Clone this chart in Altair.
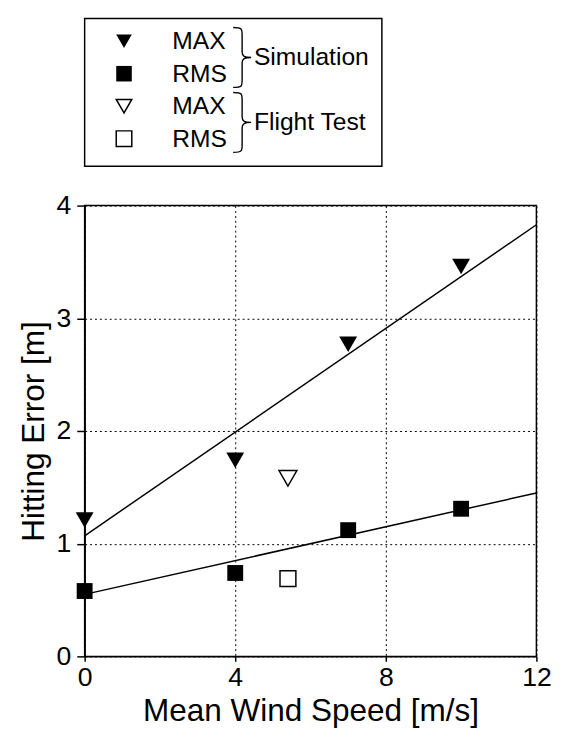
import altair as alt
import pandas as pd

# Measured hitting error [m] against mean wind speed [m/s]
sim_wind = [0, 4, 7, 10]
sim_max = [1.21, 1.74, 2.77, 3.46]
sim_rms = [0.58, 0.74, 1.12, 1.31]

flight_wind = [5.4]
flight_max = [1.58]
flight_rms = [0.69]

# Straight-line fits through the simulation results
fit_wind = [0, 12]
fit_max = [1.07, 3.83]
fit_rms = [0.55, 1.45]

# Legend contents
legend_labels = ["MAX", "RMS", "MAX", "RMS"]
legend_shapes = ["triangle-down", "square", "triangle-down", "square"]
legend_filled = [True, True, False, False]
group_names = ["Simulation", "Flight Test"]

FONT = "Liberation Sans"

sim_df = pd.DataFrame({"wind": sim_wind, "max": sim_max, "rms": sim_rms})
flight_df = pd.DataFrame({"wind": flight_wind, "max": flight_max, "rms": flight_rms})
fit_df = pd.DataFrame({"wind": fit_wind, "max": fit_max, "rms": fit_rms})

x_scale = alt.Scale(domain=[0, 12], nice=False, zero=False)
y_scale = alt.Scale(domain=[0, 4], nice=False, zero=False)

x_axis = alt.Axis(
    values=[0, 4, 8, 12], title="Mean Wind Speed [m/s]", format="d",
    grid=True, gridDash=[2, 3], gridColor="black", gridWidth=1,
    domainColor="black", domainWidth=1.5, tickColor="black", tickWidth=1.5,
    tickSize=5, labelFlush=False, labelFont=FONT, labelFontSize=27,
    labelColor="black", labelPadding=4, titleFont=FONT, titleFontSize=32,
    titleFontWeight="normal", titleColor="black", titlePadding=5,
)
y_axis = alt.Axis(
    values=[0, 1, 2, 3, 4], title="Hitting Error [m]", format="d",
    grid=True, gridDash=[2, 3], gridColor="black", gridWidth=1,
    domainColor="black", domainWidth=1.5, tickColor="black", tickWidth=1.5,
    tickSize=8, labelFlush=False, labelFont=FONT, labelFontSize=27,
    labelColor="black", labelPadding=6, titleFont=FONT, titleFontSize=32,
    titleFontWeight="normal", titleColor="black", titlePadding=6,
)

base = alt.Chart(sim_df)

max_fit_line = alt.Chart(fit_df).mark_line(color="black", strokeWidth=1.5).encode(
    x=alt.X("wind:Q", scale=x_scale, axis=x_axis),
    y=alt.Y("max:Q", scale=y_scale, axis=y_axis),
)
rms_fit_line = alt.Chart(fit_df).mark_line(color="black", strokeWidth=1.5).encode(
    x=alt.X("wind:Q", scale=x_scale),
    y=alt.Y("rms:Q", scale=y_scale),
)

sim_max_pts = base.mark_point(
    shape="triangle-down", filled=True, color="black", size=330, opacity=1
).encode(x="wind:Q", y="max:Q")
sim_rms_pts = base.mark_point(
    shape="square", filled=True, color="black", size=260, opacity=1
).encode(x="wind:Q", y="rms:Q")

flight_max_pts = alt.Chart(flight_df).mark_point(
    shape="triangle-down", filled=False, fill="white", fillOpacity=1,
    stroke="black", strokeWidth=1.5, size=330, opacity=1
).encode(x="wind:Q", y="max:Q")
flight_rms_pts = alt.Chart(flight_df).mark_point(
    shape="square", filled=False, fill="white", fillOpacity=1,
    stroke="black", strokeWidth=1.5, size=260, opacity=1
).encode(x="wind:Q", y="rms:Q")

main = alt.layer(
    max_fit_line, rms_fit_line, sim_max_pts, sim_rms_pts, flight_max_pts, flight_rms_pts
).properties(width=459, height=458)

# Legend panel: symbol column, label column, braces and group names
LW, LH = 302, 150
row_top, row_step = 23, 33
legend_df = pd.DataFrame({
    "label": legend_labels,
    "shape": legend_shapes,
    "filled": legend_filled,
    "row": [row_top + row_step * i for i in range(len(legend_labels))],
})
group_df = pd.DataFrame({
    "group": group_names,
    "mid": [row_top + row_step * (2 * i + 0.5) for i in range(len(group_names))],
})

ly = alt.Scale(domain=[0, LH], nice=False, zero=False, reverse=True)

sym_pos = dict(x=alt.value(40), y=alt.Y("row:Q", scale=ly, axis=None))

legend_filled_syms = alt.Chart(legend_df).transform_filter("datum.filled").mark_point(
    filled=True, color="black", size=250, opacity=1
).encode(shape=alt.Shape("shape:N", scale=None, legend=None), **sym_pos)
legend_open_syms = alt.Chart(legend_df).transform_filter("!datum.filled").mark_point(
    filled=False, fill="white", fillOpacity=1, stroke="black", strokeWidth=1.5,
    size=250, opacity=1
).encode(shape=alt.Shape("shape:N", scale=None, legend=None), **sym_pos)

legend_text = alt.Chart(legend_df).mark_text(
    align="left", baseline="middle", font=FONT, fontSize=25, color="black"
).encode(x=alt.value(89), y=alt.Y("row:Q", scale=ly, axis=None), text="label:N")

BRACE = ("M -0.3 -1 C 0 -1 0 -0.95 0 -0.75 L 0 -0.18 C 0 -0.04 0.08 0 0.3 0 "
         "C 0.08 0 0 0.04 0 0.18 L 0 0.75 C 0 0.95 0 1 -0.3 1")
braces = alt.Chart(group_df).mark_point(
    shape=BRACE, filled=False, stroke="black", strokeWidth=1.4, size=3700, opacity=1
).encode(x=alt.value(160), y=alt.Y("mid:Q", scale=ly, axis=None))

group_text = alt.Chart(group_df).mark_text(
    align="left", baseline="middle", font=FONT, fontSize=25, color="black"
).encode(x=alt.value(172), y=alt.Y("mid:Q", scale=ly, axis=None), text="group:N")

legend_panel = alt.layer(
    legend_filled_syms, legend_open_syms, legend_text, braces, group_text
).properties(width=LW, height=LH)

chart = alt.vconcat(legend_panel, main, spacing=40, bounds="flush").properties(
    padding={"left": 17, "top": 12, "right": 10, "bottom": 2},
    background="white",
).configure_view(stroke="black", strokeWidth=1.5)

chart.save("out.html", embed_options={"renderer": "svg", "actions": False})
